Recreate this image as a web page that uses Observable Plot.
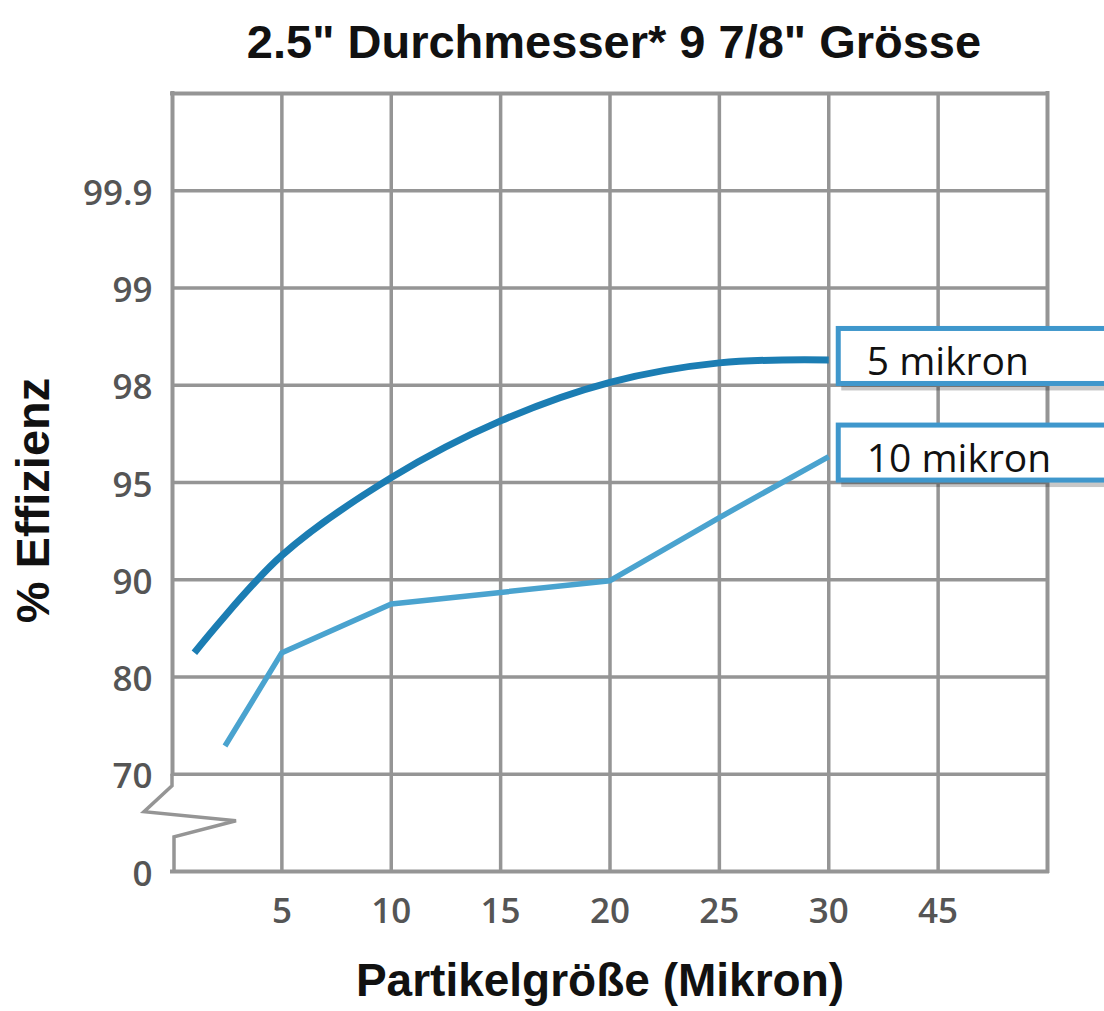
<!DOCTYPE html>
<html><head><meta charset="utf-8">
<script src="https://cdn.jsdelivr.net/npm/d3@7"></script>
<script src="https://cdn.jsdelivr.net/npm/@observablehq/plot@0.6"></script>
<style>body{margin:0;background:#fff;} svg{display:block}</style>
</head><body><div id="chart"></div>
<script>
const title = "2.5\" Durchmesser* 9 7/8\" Grösse";
const xLabel = "Partikelgröße (Mikron)";
const yLabel = "% Effizienz";
// non-linear axes: each gridline step is an equal distance
const xBreaks = [0, 5, 10, 15, 20, 25, 30, 45, 50];
const yBreaks = [0, 70, 80, 90, 95, 98, 99, 99.9, 100];
const xTicks = [5, 10, 15, 20, 25, 30, 45];
const yTicks = [0, 70, 80, 90, 95, 98, 99, 99.9];
const seriesNames = ["5 mikron", "10 mikron"];
const size5 = [1, 5, 10, 15, 20, 25, 30];
const eff5 = [82.5, 91.25, 95.15, 96.9, 98.03, 98.23, 98.26];
const size10 = [2.4, 5, 10, 15, 20, 25, 30];
const eff10 = [72.9, 82.5, 87.5, 88.7, 89.9, 93.2, 95.8];

const W = 1104, H = 1011, mL = 172, mR = 57, mT = 93, mB = 140;
const xT = d3.scaleLinear().domain(xBreaks).range(d3.range(xBreaks.length));
const yT = d3.scaleLinear().domain(yBreaks).range(d3.range(yBreaks.length));

const s5 = size5.map((x, i) => ({x, y: eff5[i]}));
const s10 = size10.map((x, i) => ({x, y: eff10[i]}));
const labels = [
  {name: seriesNames[0], x: size5[size5.length - 1], y: eff5[eff5.length - 1]},
  {name: seriesNames[1], x: size10[size10.length - 1], y: eff10[eff10.length - 1]}
];

const gridColor = "#959595";
const svgNS = "http://www.w3.org/2000/svg";

const breakMark = Plot.ruleX([0], {
  render: (index, scales) => {
    const g = document.createElementNS(svgNS, "g");
    const x0 = scales.x(xT(0)), y0 = scales.y(yT(0)), y70 = scales.y(yT(70));
    const p = document.createElementNS(svgNS, "path");
    p.setAttribute("d", `M${x0},${y70}V${y70 + 12}L${x0 - 28},${y70 + 38}L${x0 + 64},${y70 + 47}L${x0 + 2},${y70 + 63}V${y0}`);
    p.setAttribute("fill", "none");
    p.setAttribute("stroke", gridColor);
    p.setAttribute("stroke-width", 3.5);
    g.appendChild(p);
    return g;
  }
});

const boxMark = Plot.dot(labels, {
  x: "x", y: "y", r: 0,
  render: (index, scales, values) => {
    const g = document.createElementNS(svgNS, "g");
    for (const i of index) {
      const x = values.x[i], y = values.y[i];
      const sh = document.createElementNS(svgNS, "rect");
      sh.setAttribute("x", x + 13);
      sh.setAttribute("y", y - 26);
      sh.setAttribute("width", 320);
      sh.setAttribute("height", 57);
      sh.setAttribute("fill", "rgba(0,0,0,0.22)");
      g.appendChild(sh);
      const r = document.createElementNS(svgNS, "rect");
      r.setAttribute("x", x + 10);
      r.setAttribute("y", y - 31);
      r.setAttribute("width", 320);
      r.setAttribute("height", 55);
      r.setAttribute("fill", "#fff");
      r.setAttribute("stroke", "#3f97cc");
      r.setAttribute("stroke-width", 5);
      g.appendChild(r);
    }
    return g;
  }
});

const chart = Plot.plot({
  width: W, height: H,
  marginLeft: mL, marginRight: mR, marginTop: mT, marginBottom: mB,
  x: {domain: [0, xBreaks.length - 1], transform: xT},
  y: {domain: [0, yBreaks.length - 1], transform: yT},
  marks: [
    Plot.ruleX(xTicks, {stroke: gridColor, strokeWidth: 3.5}),
    Plot.ruleY(yTicks.filter(d => d > 0), {stroke: gridColor, strokeWidth: 3.5}),
    Plot.ruleY([0, 100], {stroke: gridColor, strokeWidth: 4, strokeLinecap: "square"}),
    Plot.ruleX([50], {stroke: gridColor, strokeWidth: 4, strokeLinecap: "square"}),
    Plot.ruleX([0], {y1: 70, y2: 100, stroke: gridColor, strokeWidth: 4, strokeLinecap: "square"}),
    breakMark,
    Plot.line(s10, {x: "x", y: "y", stroke: "#4aa3cf", strokeWidth: 5.5, curve: "linear", strokeLinecap: "butt"}),
    Plot.line(s5, {x: "x", y: "y", stroke: "#1b7db3", strokeWidth: 7, curve: "catmull-rom", strokeLinecap: "butt"}),
    boxMark,
    Plot.text(labels, {x: "x", y: "y", text: "name", textAnchor: "start", lineAnchor: "bottom", dx: 38, dy: 15, fontSize: 39, fontFamily: "Open Sans", fill: "#111"}),
    Plot.axisX(xTicks, {tickSize: 0, tickPadding: 27, fontSize: 35, fontWeight: 600, fontFamily: "Open Sans", color: "#555", label: null, tickFormat: d => String(d)}),
    Plot.axisY(yTicks, {tickSize: 0, tickPadding: 20, dy: 3, fontSize: 35, fontWeight: 600, fontFamily: "Open Sans", color: "#555", label: null, tickFormat: d => String(d)}),
    Plot.text([title], {text: d => d, frameAnchor: "top", dx: 4, dy: -36, lineAnchor: "bottom", fontSize: 47, fontWeight: "bold", fontFamily: "Liberation Sans, Arial", fill: "#111"}),
    Plot.text([yLabel], {text: d => d, frameAnchor: "left", textAnchor: "middle", rotate: -90, dx: -124, dy: 18, lineAnchor: "bottom", fontSize: 47, fontWeight: "bold", fontFamily: "Liberation Sans, Arial", fill: "#111"}),
    Plot.text([xLabel], {text: d => d, frameAnchor: "bottom", dx: -10, dy: 124, lineAnchor: "bottom", fontSize: 46, fontWeight: "bold", fontFamily: "Liberation Sans, Arial", fill: "#111"})
  ]
});
document.getElementById("chart").appendChild(chart);
</script>
</body></html>
